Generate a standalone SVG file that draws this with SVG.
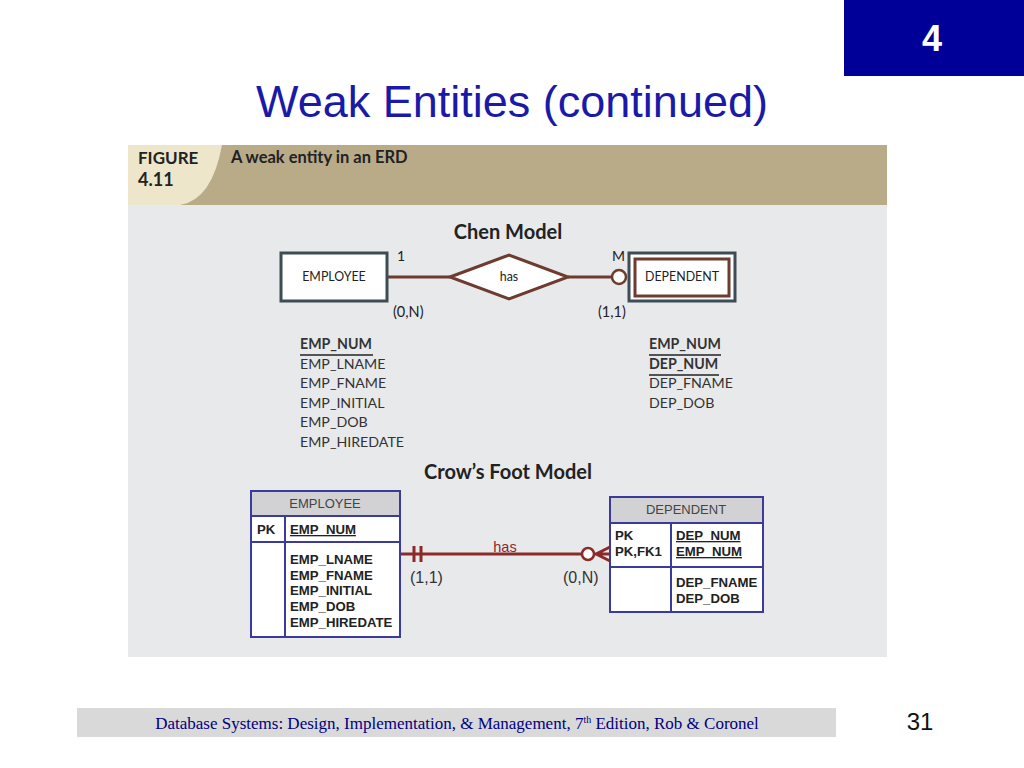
<svg xmlns="http://www.w3.org/2000/svg" width="1024" height="768" viewBox="0 0 1024 768">
<defs>
<style>
.hum{font-family:Lato,"Open Sans","DejaVu Sans",sans-serif;fill:#222}
.chenattr{font-family:Lato,"Open Sans",sans-serif;font-size:14.2px;fill:#333}
.ar{font-family:"Liberation Sans",Arial,sans-serif}
.cf{font-family:"Liberation Sans",Arial,sans-serif;font-size:13.2px;font-weight:bold;fill:#222}
.tbl{fill:#fff;stroke:#3b3b9e;stroke-width:2}
.brown{stroke:#6e3b2f;stroke-width:3;fill:none}
.red{stroke:#8c2a2a;stroke-width:3;fill:none}
</style>
</defs>
<rect width="1024" height="768" fill="#fff"/>
<g id="slide-number-box">
<rect x="844" y="0" width="180" height="76" fill="#000099"/>
<text x="932" y="51" text-anchor="middle" class="ar" font-size="36" font-weight="bold" fill="#fff">4</text>
</g>
<text x="512" y="117" text-anchor="middle" class="ar" font-size="45" fill="#1a1aa8">Weak Entities (continued)</text>

<g id="figure-panel">
<rect x="128" y="145" width="759" height="512" fill="#e8e9eb"/>
<rect x="128" y="145" width="759" height="60" fill="#b9ab88"/>
<path d="M128 145 H222 Q212 200 180 205 H128 Z" fill="#ede6cb"/>
<text x="138" y="164" class="hum" font-size="17" font-weight="bold" fill="#222">FIGURE</text>
<text x="138" y="186" class="hum" font-size="18" font-weight="bold" fill="#222">4.11</text>
<text x="231" y="163" class="hum" font-size="16.5" font-weight="bold" fill="#222">A weak entity in an ERD</text>
<text x="508" y="239" text-anchor="middle" class="hum" font-size="20" font-weight="bold">Chen Model</text>
<text x="508" y="479" text-anchor="middle" class="hum" font-size="20" font-weight="bold">Crow’s Foot Model</text>
</g>

<g id="connectors">
<line x1="388" y1="277" x2="450" y2="277" class="brown"/>
<line x1="568" y1="277" x2="612" y2="277" class="brown"/>
<circle cx="619" cy="277" r="7" fill="#fff" stroke="#6e3b2f" stroke-width="2.5"/>
<text x="397" y="261" class="hum" font-size="14" fill="#333">1</text>
<text x="612" y="261" class="hum" font-size="14" fill="#333">M</text>
<text x="393" y="317" class="hum" font-size="14.5" fill="#333">(0,N)</text>
<text x="598" y="317" class="hum" font-size="14.5" fill="#333">(1,1)</text>

<line x1="400" y1="554" x2="582" y2="554" class="red"/>
<line x1="414" y1="546" x2="414" y2="562" class="red"/>
<line x1="421" y1="546" x2="421" y2="562" class="red"/>
<circle cx="588" cy="554" r="6" fill="#fff" stroke="#8c2a2a" stroke-width="2.5"/>
<path d="M594 554 H610 M596 554 L610 547 M596 554 L610 561" class="red" stroke-width="2.5"/>
<text x="505" y="552" text-anchor="middle" class="ar" font-size="14.5" fill="#8c2a2a">has</text>
<text x="410" y="583" class="ar" font-size="16" fill="#333">(1,1)</text>
<text x="563" y="583" class="ar" font-size="16" fill="#333">(0,N)</text>
</g>

<g id="chen-employee">
<rect x="281" y="253" width="106" height="48" fill="#fff" stroke="#3e4c54" stroke-width="3"/>
<text x="334" y="281" text-anchor="middle" class="hum" font-size="12.4" fill="#333">EMPLOYEE</text>
</g>
<g id="chen-has">
<polygon points="450,277 509,255 568,277 509,299" fill="#fff" stroke="#6e3b2f" stroke-width="3"/>
<text x="509" y="281" text-anchor="middle" class="hum" font-size="12.4" fill="#333">has</text>
</g>
<g id="chen-dependent">
<rect x="629" y="253" width="106" height="48" fill="#fff" stroke="#3e4c54" stroke-width="3"/>
<rect x="635" y="259" width="94" height="37" fill="#fff" stroke="#6e3b2f" stroke-width="3"/>
<text x="682" y="281" text-anchor="middle" class="hum" font-size="12.4" fill="#333">DEPENDENT</text>
</g>

<g id="chen-employee-attributes">
<text x="300" y="349" class="chenattr" font-weight="bold" fill="#111">EMP_NUM</text>
<line x1="300" y1="355" x2="373" y2="355" stroke="#222" stroke-width="1.5"/>
<text x="300" y="369" class="chenattr">EMP_LNAME</text>
<text x="300" y="388" class="chenattr">EMP_FNAME</text>
<text x="300" y="408" class="chenattr">EMP_INITIAL</text>
<text x="300" y="427" class="chenattr">EMP_DOB</text>
<text x="300" y="447" class="chenattr">EMP_HIREDATE</text>
</g>
<g id="chen-dependent-attributes">
<text x="649" y="349" class="chenattr" font-weight="bold" fill="#111">EMP_NUM</text>
<line x1="649" y1="355" x2="721" y2="355" stroke="#222" stroke-width="1.5"/>
<text x="649" y="369" class="chenattr" font-weight="bold" fill="#111">DEP_NUM</text>
<line x1="649" y1="375" x2="719" y2="375" stroke="#222" stroke-width="1.5"/>
<text x="649" y="388" class="chenattr">DEP_FNAME</text>
<text x="649" y="408" class="chenattr">DEP_DOB</text>
</g>

<g id="cf-employee">
<rect x="251" y="491" width="149" height="146" class="tbl"/>
<rect x="252" y="492" width="147" height="24" fill="#d2d2d4"/>
<line x1="251" y1="516" x2="400" y2="516" stroke="#3b3b9e" stroke-width="2"/>
<line x1="251" y1="542" x2="400" y2="542" stroke="#3b3b9e" stroke-width="2"/>
<line x1="285" y1="516" x2="285" y2="637" stroke="#3b3b9e" stroke-width="2"/>
<text x="325" y="508" text-anchor="middle" class="ar" font-size="13" fill="#444">EMPLOYEE</text>
<text x="257" y="534" class="cf">PK</text>
<text x="290" y="534" class="cf" text-decoration="underline">EMP_NUM</text>
<text x="290" y="564" class="cf">EMP_LNAME</text>
<text x="290" y="580" class="cf">EMP_FNAME</text>
<text x="290" y="595" class="cf">EMP_INITIAL</text>
<text x="290" y="611" class="cf">EMP_DOB</text>
<text x="290" y="627" class="cf">EMP_HIREDATE</text>
</g>

<g id="cf-dependent">
<rect x="610" y="497" width="153" height="115" class="tbl"/>
<rect x="611" y="498" width="151" height="25" fill="#d2d2d4"/>
<line x1="610" y1="523" x2="763" y2="523" stroke="#3b3b9e" stroke-width="2"/>
<line x1="610" y1="567" x2="763" y2="567" stroke="#3b3b9e" stroke-width="2"/>
<line x1="671" y1="523" x2="671" y2="612" stroke="#3b3b9e" stroke-width="2"/>
<text x="686" y="514" text-anchor="middle" class="ar" font-size="13" fill="#444">DEPENDENT</text>
<text x="615" y="540" class="cf">PK</text>
<text x="615" y="556" class="cf">PK,FK1</text>
<text x="676" y="540" class="cf" text-decoration="underline">DEP_NUM</text>
<text x="676" y="556" class="cf" text-decoration="underline">EMP_NUM</text>
<text x="676" y="587" class="cf">DEP_FNAME</text>
<text x="676" y="603" class="cf">DEP_DOB</text>
</g>

<g id="footer">
<rect x="77" y="708" width="759" height="29" fill="#d9d9d9"/>
<text x="457" y="729" text-anchor="middle" font-family="'Liberation Serif','Times New Roman',serif" font-size="17" fill="#00007f">Database Systems: Design, Implementation, &amp; Management, 7<tspan font-size="10" dy="-6">th</tspan><tspan dy="6"> Edition, Rob &amp; Coronel</tspan></text>
<text x="920" y="730" text-anchor="middle" class="ar" font-size="24" fill="#111">31</text>
</g>
</svg>
